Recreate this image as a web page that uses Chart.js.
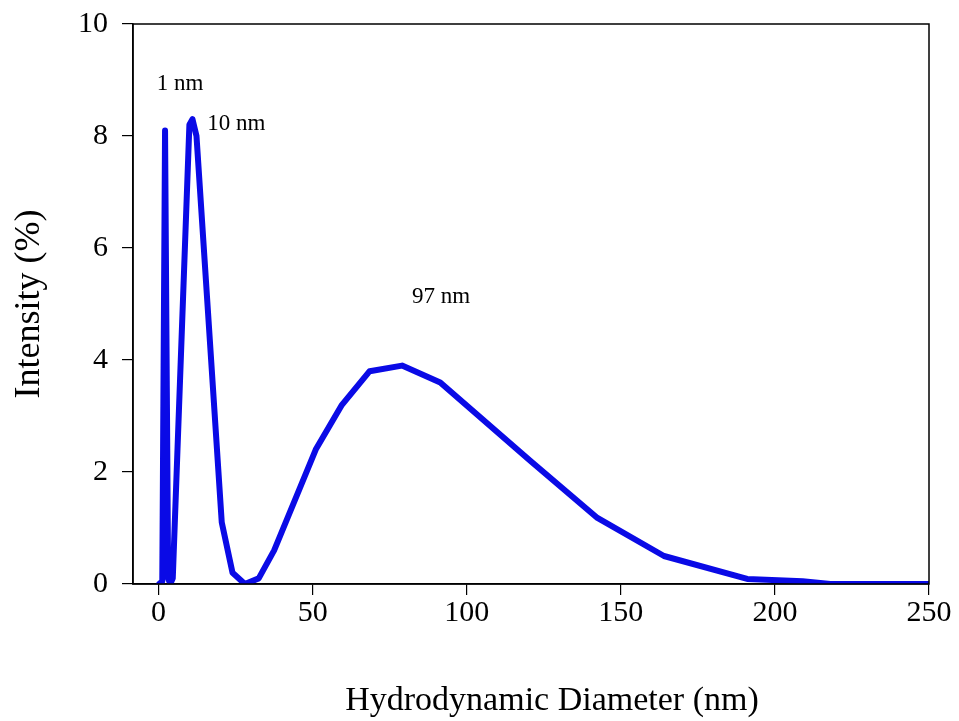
<!DOCTYPE html>
<html>
<head>
<meta charset="utf-8">
<script src="https://cdn.jsdelivr.net/npm/chart.js@4.4.1/dist/chart.umd.min.js"></script>
<style>
  html, body { margin: 0; padding: 0; background: #ffffff; }
  #wrap { width: 959px; height: 721px; }
</style>
</head>
<body>
<div id="wrap"><canvas id="c" width="959" height="721"></canvas></div>
<script>
// Hydrodynamic diameter (nm)
const diameters = [0.2, 1.2, 2.1, 3.1, 3.8, 4.6, 10.0, 11.0, 12.3, 20.5, 24.0, 28.0, 32.5, 37.5, 51.0, 59.5, 68.5, 79.0, 91.4, 120.6, 142.4, 164.0, 191.0, 209.0, 218.0, 250.0];
// Intensity (%)
const intensities = [0.0, 0.05, 8.1, 0.1, 0.0, 0.1, 8.2, 8.3, 8.0, 1.1, 0.2, 0.0, 0.1, 0.6, 2.4, 3.2, 3.8, 3.9, 3.6, 2.2, 1.18, 0.5, 0.09, 0.05, 0.0, 0.0];
const xTicks = [0, 50, 100, 150, 200, 250];
const yTicks = [0, 2, 4, 6, 8, 10];
const peakLabels = ["1 nm", "10 nm", "97 nm"];
const xTitle = "Hydrodynamic Diameter (nm)";
const yTitle = "Intensity (%)";

const FONT = "'Liberation Serif', 'Times New Roman', serif";

const points = diameters.map((d, i) => ({ x: d, y: intensities[i] }));

const frameAndLabels = {
  id: 'frameAndLabels',
  afterDraw(chart) {
    const { ctx, chartArea: a, scales } = chart;
    ctx.save();
    ctx.strokeStyle = '#000';
    ctx.lineWidth = 1.5;
    ctx.strokeRect(a.left, a.top, a.right - a.left, a.bottom - a.top);
    ctx.fillStyle = '#000';
    ctx.font = "23px " + FONT;
    ctx.textAlign = 'center';
    ctx.textBaseline = 'middle';
    const pos = [[7.0, 8.93], [25.2, 8.21], [91.7, 5.13]];
    peakLabels.forEach((t, i) => {
      ctx.fillText(t, scales.x.getPixelForValue(pos[i][0]), scales.y.getPixelForValue(pos[i][1]));
    });
    // x-axis title (slightly right of the axis centre, as in the original)
    ctx.font = "34px " + FONT;
    ctx.fillText(xTitle, (a.left + a.right) / 2 + 21, 701);
    ctx.restore();
  }
};

new Chart(document.getElementById('c'), {
  type: 'line',
  data: {
    datasets: [{
      data: points,
      borderColor: '#0a0ae6',
      borderWidth: 6,
      pointRadius: 0,
      tension: 0,
      fill: false,
      borderJoinStyle: 'round',
      borderCapStyle: 'round'
    }]
  },
  options: {
    responsive: false,
    animation: false,
    devicePixelRatio: 1,
    layout: { padding: { left: 0, right: 30, top: 24, bottom: 0 } },
    plugins: { legend: { display: false }, tooltip: { enabled: false } },
    scales: {
      x: {
        type: 'linear',
        min: -8.3,
        max: 250,
        afterBuildTicks(s) { s.ticks = xTicks.map(v => ({ value: v })); },
        afterFit(s) { s.height = 137; s.paddingLeft = 0; s.paddingRight = 0; },
        grid: { display: true, drawOnChartArea: false, drawTicks: true, tickLength: 11, color: '#000', lineWidth: 1.2 },
        border: { display: true, color: '#000', width: 1.5 },
        ticks: { color: '#000', font: { family: FONT, size: 30 }, padding: 0, maxRotation: 0 },
        title: { display: false, text: xTitle }
      },
      y: {
        type: 'linear',
        min: 0,
        max: 10,
        afterBuildTicks(s) { s.ticks = yTicks.map(v => ({ value: v })); },
        afterFit(s) { s.width = 133; s.paddingTop = 0; s.paddingBottom = 0; },
        grid: { display: true, drawOnChartArea: false, drawTicks: true, tickLength: 11, color: '#000', lineWidth: 1.2 },
        border: { display: true, color: '#000', width: 1.5 },
        ticks: { color: '#000', font: { family: FONT, size: 30 }, padding: 14 },
        title: { display: true, text: yTitle, color: '#000', font: { family: FONT, size: 36 }, padding: { top: 8, bottom: 20 } }
      }
    }
  },
  plugins: [frameAndLabels]
});
</script>
</body>
</html>
